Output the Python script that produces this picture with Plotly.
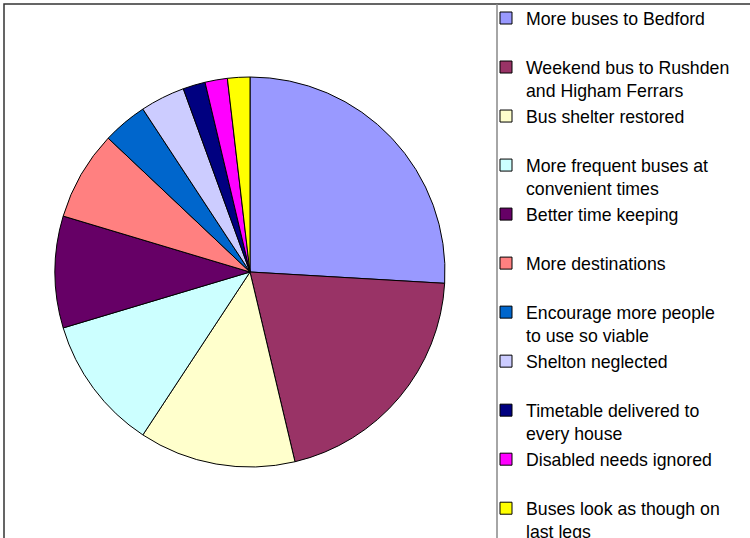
import plotly.graph_objects as go

categories = [
    "More buses to Bedford",
    "Weekend bus to Rushden<br>and Higham Ferrars",
    "Bus shelter restored",
    "More frequent buses at<br>convenient times",
    "Better time keeping",
    "More destinations",
    "Encourage more people<br>to use so viable",
    "Shelton neglected",
    "Timetable delivered to<br>every house",
    "Disabled needs ignored",
    "Buses look as though on<br>last legs",
]
responses = [14, 11, 7, 6, 5, 4, 2, 2, 1, 1, 1]
colors = ["#9999FF", "#993366", "#FFFFCC", "#CCFFFF", "#660066", "#FF8080",
          "#0066CC", "#CCCCFF", "#000080", "#FF00FF", "#FFFF00"]

# every legend entry takes two lines, as in the original
labels = [c if "<br>" in c else c + "<br> " for c in categories]

W, H = 750, 538
cx, cy, r = 250, 272, 195

fig = go.Figure(go.Pie(
    labels=labels,
    values=responses,
    sort=False,
    direction="clockwise",
    rotation=0,
    textinfo="none",
    hoverinfo="label+value",
    marker=dict(colors=colors, line=dict(color="#000000", width=1)),
    domain=dict(x=[(cx - r) / W, (cx + r) / W],
                y=[(H - cy - r) / H, (H - cy + r) / H]),
))

fig.update_layout(
    width=W, height=H,
    margin=dict(l=0, r=0, t=0, b=0),
    paper_bgcolor="white",
    plot_bgcolor="white",
    font=dict(family="Arial, Liberation Sans, sans-serif", color="#000000"),
    showlegend=True,
    legend=dict(
        x=486 / W, xanchor="left",
        y=1 - 2 / H, yanchor="top",
        font=dict(size=17.7, family="Arial, Liberation Sans, sans-serif", color="#000000"),
        valign="top",
        bgcolor="rgba(0,0,0,0)",
        borderwidth=0,
        tracegroupgap=0,
        itemclick=False,
        maxheight=800,
    ),
    shapes=[
        dict(type="rect", xref="paper", yref="paper",
             x0=4 / W, x1=1.02, y0=-0.02, y1=1 - 4 / H,
             line=dict(color="#333333", width=1.5), fillcolor="rgba(0,0,0,0)"),
        dict(type="line", xref="paper", yref="paper",
             x0=497 / W, x1=497 / W, y0=-0.02, y1=1 - 4 / H,
             line=dict(color="#888888", width=1.5)),
    ],
)

fig.write_html(
    "out.html",
    config={"displayModeBar": False},
    post_script="document.body.style.margin='0px';document.body.style.overflow='hidden';",
)
